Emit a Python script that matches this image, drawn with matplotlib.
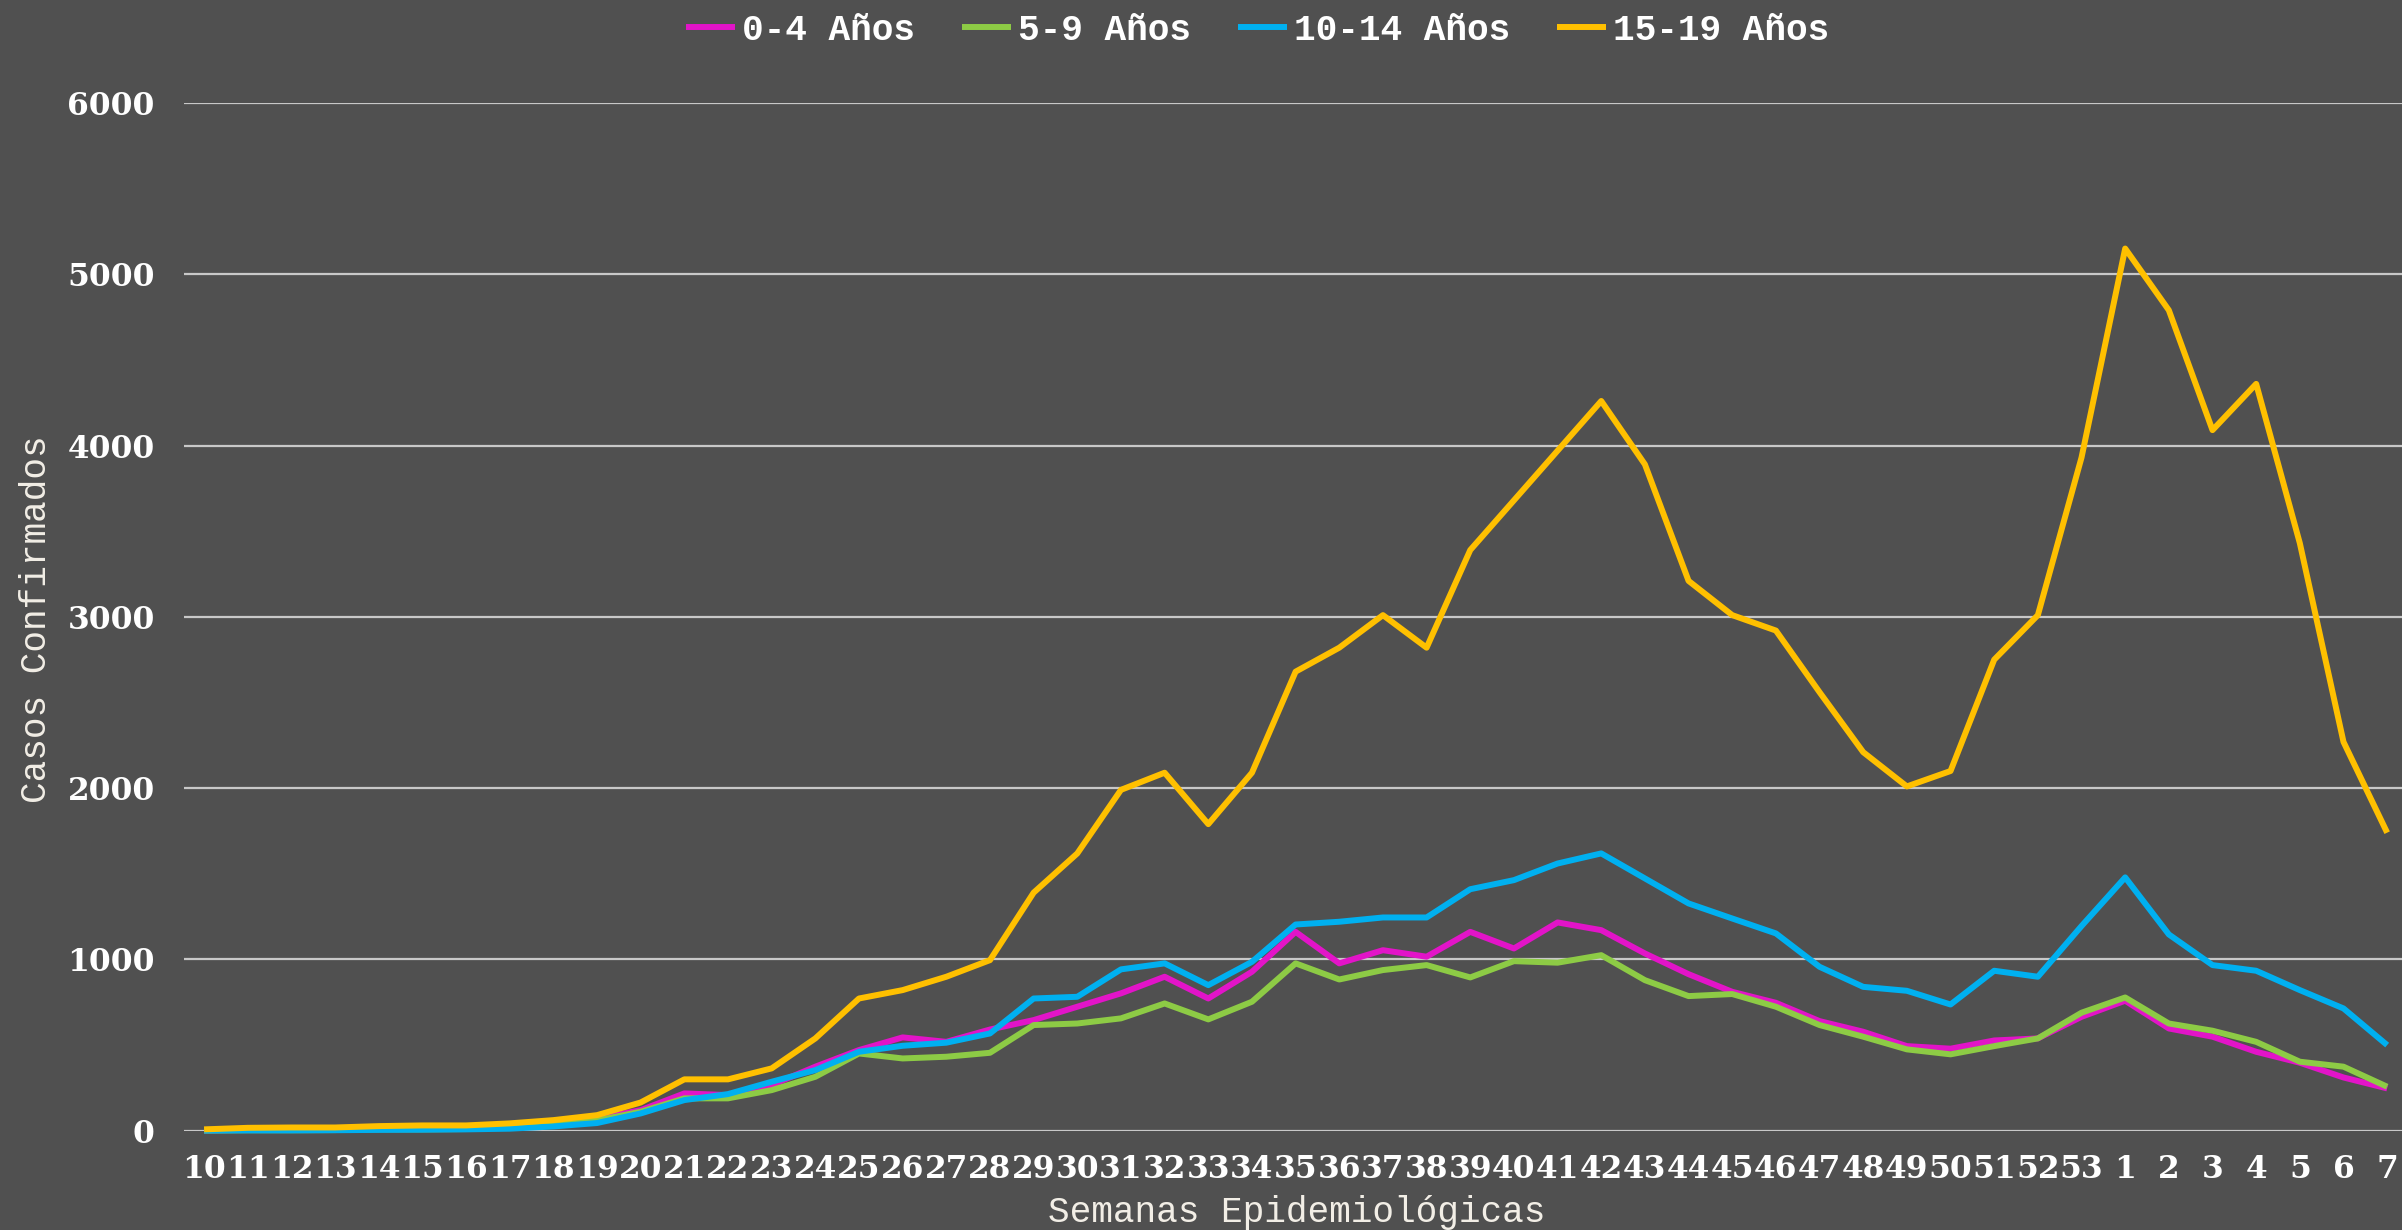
import matplotlib
matplotlib.use("Agg")
import matplotlib.pyplot as plt

weeks = [str(w) for w in range(10, 54)] + [str(w) for w in range(1, 8)]

casos_0_4 = [2, 5, 5, 5, 10, 10, 12, 25, 40, 70,
             120, 218, 208, 267, 374, 471, 545, 519, 591, 646,
             724, 802, 899, 772, 928, 1161, 977, 1054, 1016, 1161,
             1064, 1216, 1171, 1035, 914, 811, 747, 640, 578, 494,
             479, 527, 539, 665, 759, 597, 549, 461, 397, 311, 247]
casos_5_9 = [1, 3, 3, 4, 8, 8, 10, 20, 35, 60,
             111, 189, 189, 237, 315, 451, 422, 432, 455, 617,
             626, 656, 743, 650, 753, 977, 883, 938, 967, 895,
             990, 981, 1025, 879, 786, 798, 724, 617, 549, 475,
             446, 494, 539, 689, 778, 626, 584, 519, 403, 374, 257]
casos_10_14 = [1, 2, 2, 3, 5, 6, 8, 12, 25, 45,
               101, 179, 214, 286, 354, 461, 496, 514, 568, 772,
               782, 942, 977, 850, 986, 1204, 1220, 1245, 1245, 1410,
               1463, 1560, 1619, 1473, 1327, 1239, 1152, 957, 840, 817,
               737, 934, 899, 1195, 1479, 1146, 967, 934, 821, 714, 500]
casos_15_19 = [8, 17, 19, 19, 27, 31, 31, 43, 62, 91,
               165, 300, 300, 364, 539, 772, 821, 899, 996, 1390,
               1619, 1990, 2090, 1790, 2090, 2680, 2820, 3010, 2820, 3390,
               3680, 3970, 4260, 3890, 3210, 3010, 2920, 2560, 2210, 2010,
               2100, 2750, 3010, 3930, 5150, 4790, 4090, 4360, 3430, 2270, 1740]

series_names = ["0-4 Años", "5-9 Años", "10-14 Años", "15-19 Años"]
series_vals = [casos_0_4, casos_5_9, casos_10_14, casos_15_19]
colors = ["#E214C8", "#8DCB45", "#00B0F0", "#FFC000"]

yticks = [0, 1000, 2000, 3000, 4000, 5000, 6000]

bg = "#505050"
fig = plt.figure(figsize=(24.02, 12.30), dpi=100, facecolor=bg)
ax = fig.add_axes([0.0766, 0.0807, 1 - 0.0766, 0.9163 - 0.0807])
ax.set_facecolor(bg)

x = list(range(len(weeks)))
for name, vals, c in zip(series_names, series_vals, colors):
    ax.plot(x, vals, color=c, lw=4.3, label=name, solid_joinstyle="round",
            solid_capstyle="butt", clip_on=False, zorder=3)

ax.set_xlim(-0.46, 50.34)
ax.set_ylim(0, 6000)
ax.set_yticks(yticks)
ax.set_yticklabels([str(v) for v in yticks])
ax.set_xticks(x)
ax.set_xticklabels(weeks)

ax.grid(axis="y", color="#C8C8C8", lw=1.6, zorder=1)
ax.grid(axis="x", visible=False)
for s in ax.spines.values():
    s.set_visible(False)

ax.tick_params(axis="both", length=0, colors="white")
ax.tick_params(axis="y", pad=21)
ax.tick_params(axis="x", pad=17)
for lab in ax.get_yticklabels() + ax.get_xticklabels():
    lab.set_fontfamily("DejaVu Serif")
    lab.set_fontweight("bold")
    lab.set_fontsize(22.5)
    lab.set_color("white")

label_color = "#F2EEE6"
fig.text(37 / 2402, 1 - 619 / 1230, "Casos Confirmados", rotation=90,
         ha="center", va="center", family="Liberation Mono", fontsize=26,
         color=label_color)
fig.text(1297 / 2402, 1 - 1213 / 1230, "Semanas Epidemiológicas",
         ha="center", va="center", family="Liberation Mono", fontsize=26,
         color=label_color)

leg = fig.legend(loc="center", bbox_to_anchor=(1258 / 2402, 1 - 30 / 1230),
                 ncol=4, frameon=False, handlelength=1.35, handletextpad=0.2,
                 columnspacing=1.3,
                 prop=dict(family="Liberation Mono", weight="bold", size=26))
for t in leg.get_texts():
    t.set_color("white")

fig.savefig("out.png", dpi=100, facecolor=bg)
